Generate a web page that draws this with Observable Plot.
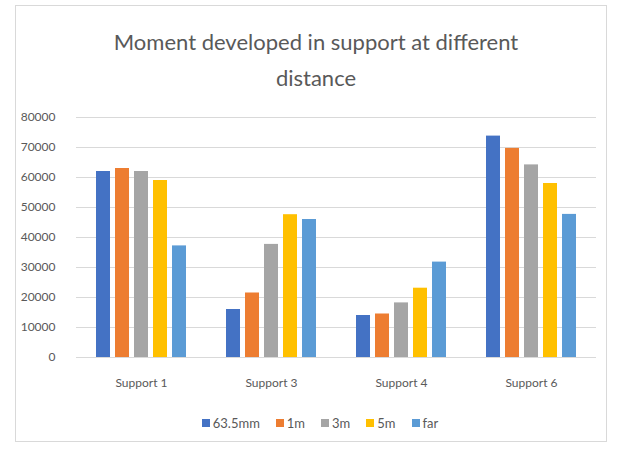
<!DOCTYPE html>
<html>
<head>
<meta charset="utf-8">
<script src="https://cdn.jsdelivr.net/npm/d3@7"></script>
<script src="https://cdn.jsdelivr.net/npm/@observablehq/plot@0.6"></script>
<style>
  html, body { margin: 0; padding: 0; background: #fff; }
  #wrap { position: relative; width: 621px; height: 453px; overflow: hidden; font-family: Lato, "Open Sans", sans-serif; }
  #frame { position: absolute; left: 15px; top: 5px; width: 592px; height: 437px; border: 1px solid #d9d9d9; box-sizing: border-box; }
  #title { position: absolute; left: 0; width: 632px; top: 24px; text-align: center; font-size: 22px; line-height: 36px; color: #595959; }
  #chart { position: absolute; left: 0; top: 107px; }
  #legend { position: absolute; left: 0; width: 640px; top: 415px; display: flex; justify-content: center; font-size: 13px; color: #595959; }
  .sw { display: flex; align-items: center; margin-right: 16px; }
  .sw:last-child { margin-right: 0; }
  .sw i { display: inline-block; width: 8px; height: 8px; margin-right: 3px; }
</style>
</head>
<body>
<div id="wrap">
  <div id="frame"></div>
  <div id="title">Moment developed in support at different<br>distance</div>
  <div id="chart"></div>
  <div id="legend"></div>
</div>
<script>
const supports = ["Support 1", "Support 3", "Support 4", "Support 6"];
const series = ["63.5mm", "1m", "3m", "5m", "far"];
const colors = ["#4472C4", "#ED7D31", "#A5A5A5", "#FFC000", "#5B9BD5"];
const v63_5mm = [62000, 16000, 14000, 73800];
const v1m = [63000, 21500, 14500, 69700];
const v3m = [62000, 37700, 18200, 64200];
const v5m = [59000, 47600, 23100, 58000];
const vFar = [37200, 46000, 31800, 47700];
const yTicks = [0, 10000, 20000, 30000, 40000, 50000, 60000, 70000, 80000];

const seriesValues = [v63_5mm, v1m, v3m, v5m, vFar];
const data = supports.flatMap((s, i) => series.map((k, j) => ({support: s, series: k, value: seriesValues[j][i]})));

const chart = Plot.plot({
  width: 621,
  height: 290,
  marginLeft: 75,
  marginRight: 24,
  marginTop: 10,
  marginBottom: 40,
  style: {fontFamily: "Lato, 'Open Sans', sans-serif", fontSize: "12px", color: "#595959", background: "transparent"},
  facet: {data, x: "support", label: null},
  fx: {domain: supports, padding: 0, label: null, tickSize: 0, tickPadding: 21},
  x: {domain: series, paddingInner: 0.25, paddingOuter: 0.8875, axis: null},
  y: {domain: [0, 80000], ticks: 8, tickFormat: "d", tickSize: 0, tickPadding: 21, label: null},
  color: {domain: series, range: colors},
  marks: [
    Plot.ruleY(yTicks, {stroke: "#d9d9d9"}),
    Plot.barY(data, {x: "series", y: "value", fill: "series"})
  ]
});
document.getElementById("chart").appendChild(chart);

const leg = document.getElementById("legend");
series.forEach((s, i) => {
  const d = document.createElement("span");
  d.className = "sw";
  d.innerHTML = `<i style="background:${colors[i]}"></i>${s}`;
  leg.appendChild(d);
});
</script>
</body>
</html>
